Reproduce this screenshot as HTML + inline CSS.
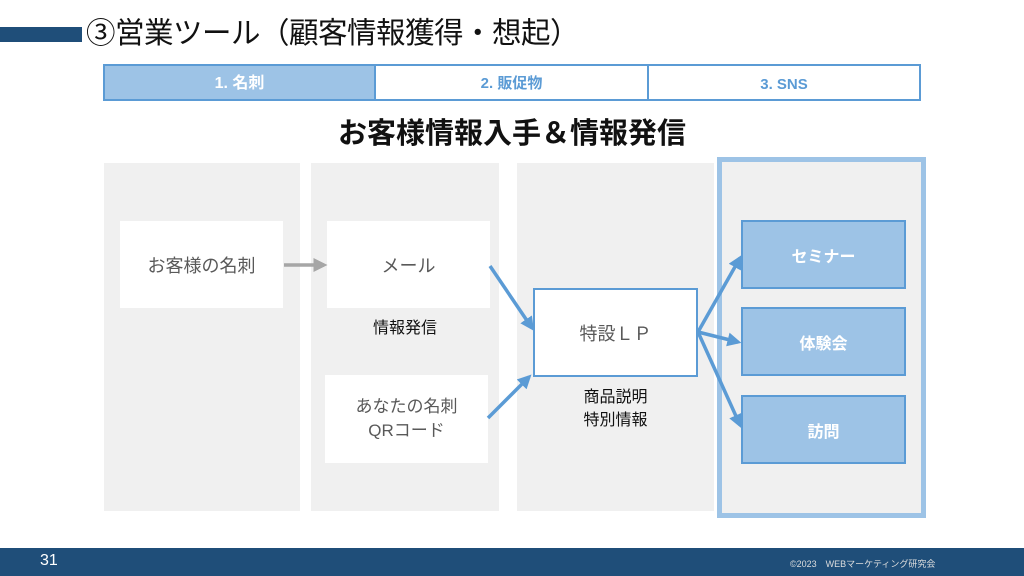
<!DOCTYPE html><html><head><meta charset="utf-8"><style>
body{margin:0;width:1024px;height:576px;position:relative;background:#fff;font-family:"Liberation Sans","Noto Sans CJK JP",sans-serif;overflow:hidden}
div{position:absolute;box-sizing:border-box}
.c{display:flex;align-items:center;justify-content:center;text-align:center}
.w{background:#fff;color:#595959;font-size:18px}
.b{background:#9dc3e6;border:2px solid #5b9bd5;color:#fff;font-weight:bold;font-size:16px}
.g{background:#f0f0f0}
</style></head><body>
<div style="left:0;top:27px;width:82px;height:15px;background:#1f4e79"></div>
<div style="left:86px;top:14px;font-size:29.5px;line-height:40px;color:#111;white-space:nowrap;letter-spacing:-0.5px">③営業ツール（顧客情報獲得・想起）</div>
<div class="c" style="left:103px;top:64px;width:273px;height:37px;background:#9dc3e6;border:2px solid #5b9bd5;color:#fff;font-weight:bold;font-size:16px;padding-bottom:4px">1. 名刺</div>
<div class="c" style="left:374px;top:64px;width:275px;height:37px;border:2px solid #5b9bd5;color:#5b9bd5;font-weight:bold;font-size:15px">2. 販促物</div>
<div class="c" style="left:647px;top:64px;width:274px;height:37px;border:2px solid #5b9bd5;color:#5b9bd5;font-weight:bold;font-size:15px;padding-top:3px">3. SNS</div>
<div class="c" style="left:0;top:112px;width:1024px;height:38px;font-size:29px;font-weight:bold;color:#111">お客様情報入手＆情報発信</div>
<div class="g" style="left:104px;top:163px;width:196px;height:348px"></div>
<div class="g" style="left:311px;top:163px;width:188px;height:348px"></div>
<div class="g" style="left:517px;top:163px;width:197px;height:348px"></div>
<div class="g" style="left:717px;top:157px;width:209px;height:361px;border:5px solid #9dc3e6"></div>
<div class="c w" style="left:120px;top:221px;width:163px;height:87px">お客様の名刺</div>
<div class="c w" style="left:327px;top:221px;width:163px;height:87px">メール</div>
<div class="c" style="left:311px;top:315px;width:188px;height:22px;font-size:16px;color:#111">情報発信</div>
<div class="c w" style="left:325px;top:375px;width:163px;height:88px;font-size:17px;line-height:24px">あなたの名刺<br>QRコード</div>
<div class="c w" style="left:533px;top:288px;width:165px;height:89px;border:2px solid #5b9bd5">特設ＬＰ</div>
<div class="c" style="left:533px;top:384px;width:165px;height:50px;font-size:16px;color:#111;line-height:23px">商品説明<br>特別情報</div>
<div class="c b" style="left:741px;top:220px;width:165px;height:69px">セミナー</div>
<div class="c b" style="left:741px;top:307px;width:165px;height:69px">体験会</div>
<div class="c b" style="left:741px;top:395px;width:165px;height:69px">訪問</div>
<svg style="position:absolute;left:0;top:0" width="1024" height="576">
<defs><marker id="a" markerWidth="4" markerHeight="4" refX="3" refY="2" orient="auto"><path d="M0,0L4,2L0,4z" fill="#5b9bd5"/></marker>
<marker id="g" markerWidth="4" markerHeight="4" refX="3" refY="2" orient="auto"><path d="M0,0L4,2L0,4z" fill="#a6a6a6"/></marker></defs>
<g stroke-width="3.5" fill="none">
<line x1="284" y1="265" x2="324" y2="265" stroke="#a6a6a6" marker-end="url(#g)"/>
<g stroke="#5b9bd5" marker-end="url(#a)">
<line x1="490" y1="266" x2="532" y2="328"/>
<line x1="488" y1="418" x2="529" y2="377"/>
<line x1="698" y1="332" x2="740" y2="258"/>
<line x1="698" y1="332" x2="738" y2="342"/>
<line x1="698" y1="332" x2="740" y2="425"/>
</g></g></svg>
<div style="left:0;top:548px;width:1024px;height:28px;background:#1f4e79"></div>
<div style="left:40px;top:552px;color:#fff;font-size:16px">31</div>
<div style="left:790px;top:557px;color:#ddd;font-size:9px">©2023　WEBマーケティング研究会</div>
</body></html>
